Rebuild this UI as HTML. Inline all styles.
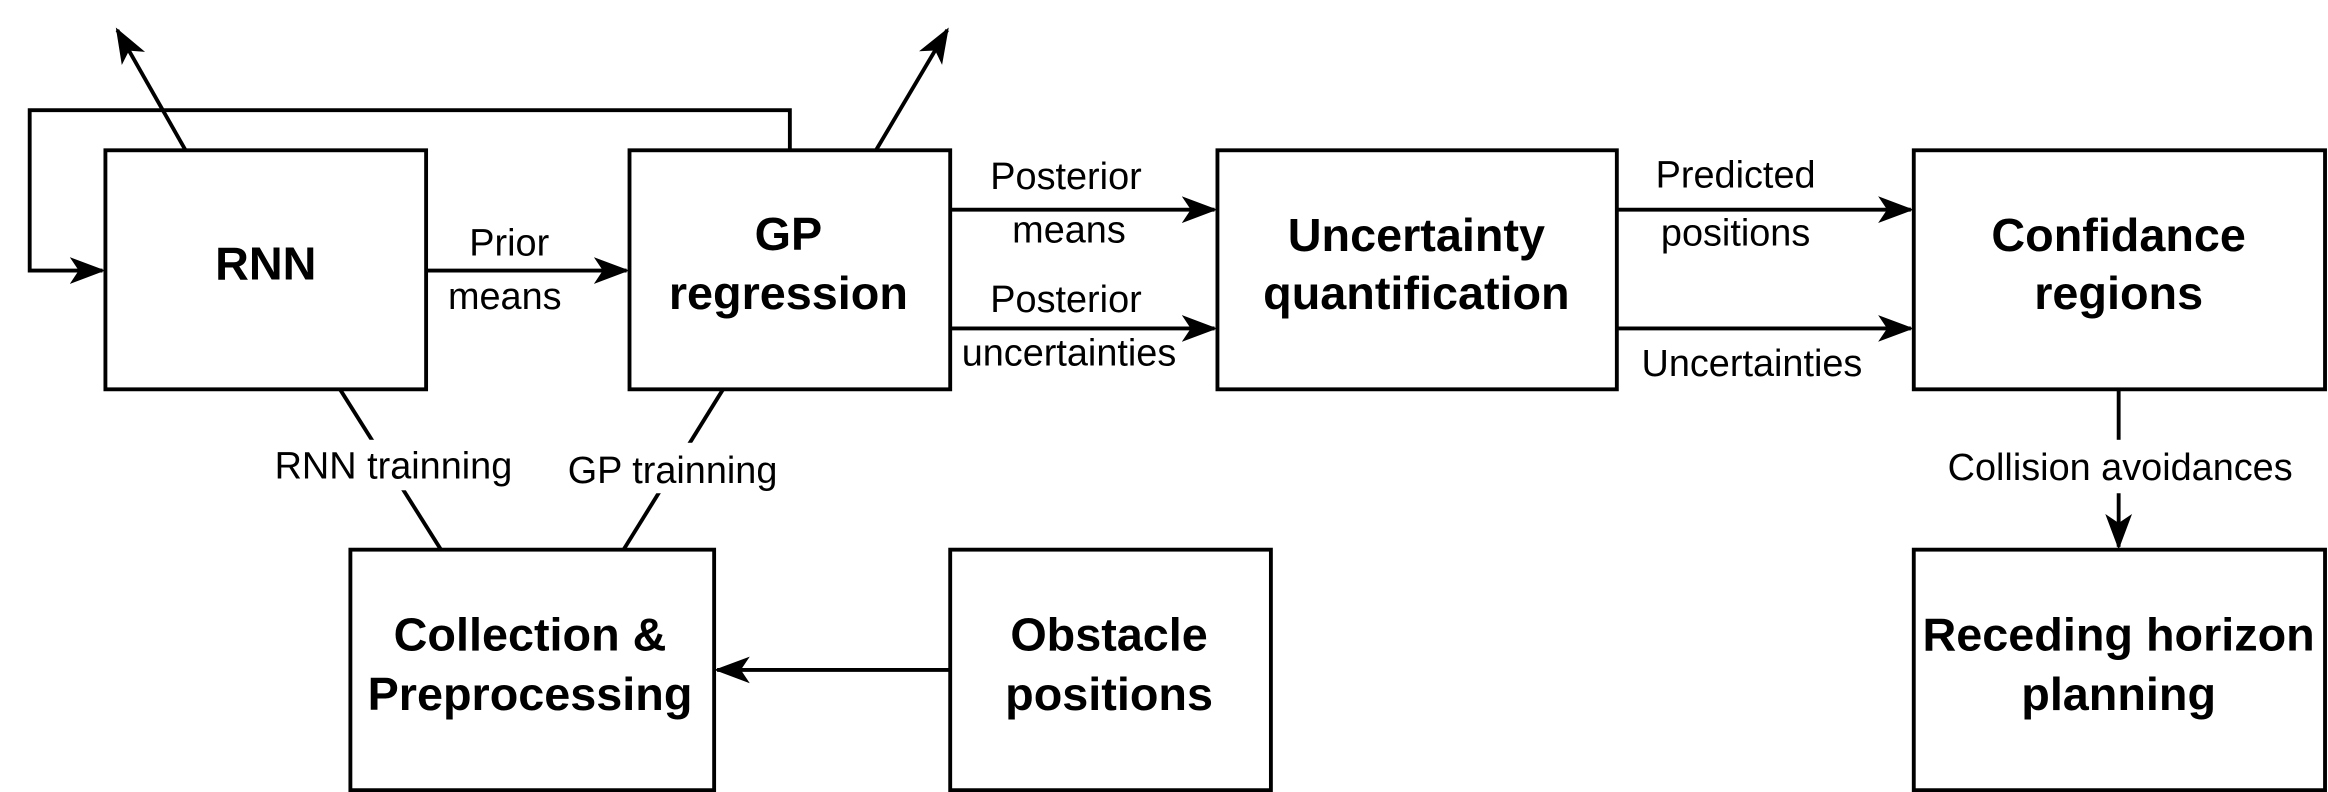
<!DOCTYPE html>
<html><head><style>html,body{margin:0;padding:0;background:#fff}svg{display:block}</style></head>
<body>
<svg width="2328" height="792" viewBox="0 0 1568 533" xmlns="http://www.w3.org/2000/svg">
<defs>
<marker id="b" markerWidth="24" markerHeight="24" refX="22" refY="12" orient="auto" markerUnits="userSpaceOnUse">
<path d="M0,3 L24,12 L0,21 L6,12 Z" fill="#000"/>
</marker>
</defs>
<g fill="none" stroke="#000" stroke-width="2.6">
<rect x="71" y="101" width="216" height="161" fill="#fff"/>
<rect x="424" y="101" width="216" height="161" fill="#fff"/>
<rect x="820" y="101" width="269" height="161" fill="#fff"/>
<rect x="1289" y="101" width="277" height="161" fill="#fff"/>
<rect x="236" y="370" width="245" height="162" fill="#fff"/>
<rect x="640" y="370" width="216" height="162" fill="#fff"/>
<rect x="1289" y="370" width="277" height="162" fill="#fff"/>
<polyline points="532,101 532,74 20,74 20,182 69,182" marker-end="url(#b)"/>
<line x1="125" y1="101" x2="79" y2="20" marker-end="url(#b)"/>
<line x1="590" y1="101" x2="638" y2="20" marker-end="url(#b)"/>
<line x1="287" y1="182" x2="422" y2="182" marker-end="url(#b)"/>
<line x1="640" y1="141" x2="818" y2="141" marker-end="url(#b)"/>
<line x1="640" y1="221" x2="818" y2="221" marker-end="url(#b)"/>
<line x1="1089" y1="141" x2="1287" y2="141" marker-end="url(#b)"/>
<line x1="1089" y1="221" x2="1287" y2="221" marker-end="url(#b)"/>
<line x1="1427" y1="262" x2="1427" y2="368" marker-end="url(#b)"/>
<line x1="640" y1="451" x2="483" y2="451" marker-end="url(#b)"/>
<line x1="229" y1="262" x2="297" y2="370"/>
<line x1="487" y1="262" x2="420" y2="370"/>
</g>
<g font-family="Liberation Sans, sans-serif" text-anchor="middle">
<rect x="178" y="296" width="174" height="34" fill="#fff"/>
<rect x="376" y="298" width="156" height="34" fill="#fff"/>
<rect x="1292" y="296" width="272" height="36" fill="#fff"/>
<g font-size="25.5">
<text x="343" y="172">Prior</text>
<text x="340" y="208">means</text>
<text x="718" y="127">Posterior</text>
<text x="720" y="163">means</text>
<text x="718" y="210">Posterior</text>
<text x="720" y="246">uncertainties</text>
<text x="1169" y="126">Predicted</text>
<text x="1169" y="165">positions</text>
<text x="1180" y="253">Uncertainties</text>
<text x="1428" y="323">Collision avoidances</text>
<text x="265" y="322">RNN trainning</text>
<text x="453" y="325">GP trainning</text>
</g>
<g font-size="31.5" font-weight="bold">
<text x="179" y="188">RNN</text>
<text x="531" y="168">GP</text>
<text x="531" y="208">regression</text>
<text x="954" y="169">Uncertainty</text>
<text x="954" y="208">quantification</text>
<text x="1427" y="169">Confidance</text>
<text x="1427" y="208">regions</text>
<text x="357" y="438">Collection &amp;</text>
<text x="357" y="478">Preprocessing</text>
<text x="747" y="438">Obstacle</text>
<text x="747" y="478">positions</text>
<text x="1427" y="438">Receding horizon</text>
<text x="1427" y="478">planning</text>
</g>
</g>
</svg>
</body></html>
